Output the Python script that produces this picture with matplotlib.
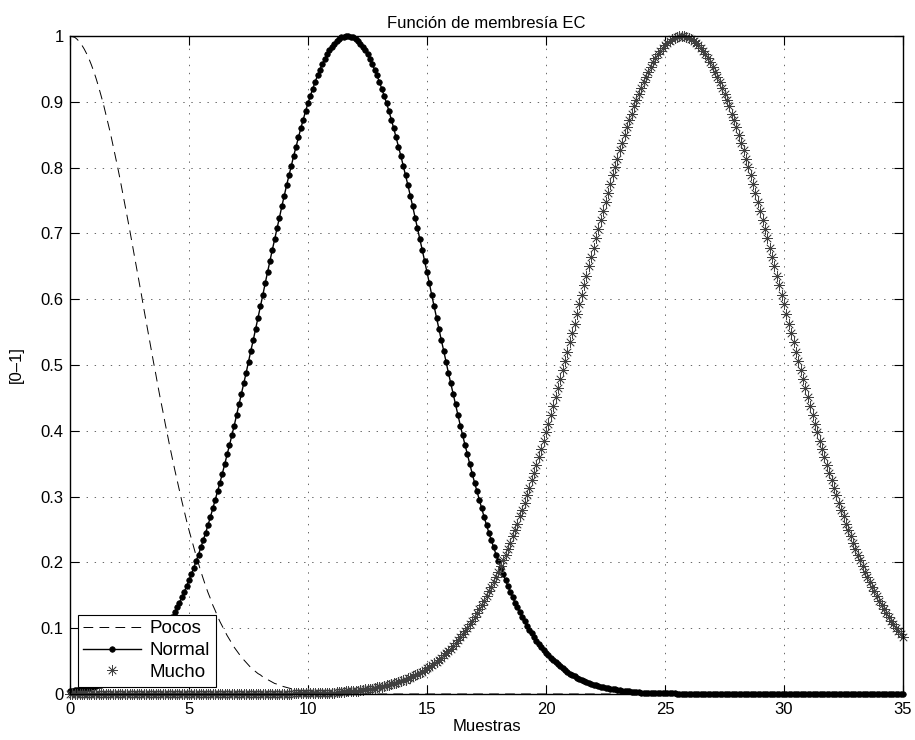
import numpy as np
import matplotlib.pyplot as plt
from matplotlib.ticker import FormatStrFormatter

plt.rcParams['font.family'] = ['Liberation Sans', 'DejaVu Sans']
plt.rcParams['font.size'] = 12
plt.rcParams['lines.scale_dashes'] = False

# one sample every 0.1 on the "Muestras" axis, from 0 to 35
x_step = 0.1

pocos = [
    1.000, 0.999, 0.998, 0.995, 0.991, 0.986, 0.980, 0.973, 0.965, 0.956,
    0.946, 0.935, 0.923, 0.910, 0.897, 0.882, 0.867, 0.852, 0.835, 0.818,
    0.801, 0.783, 0.764, 0.745, 0.726, 0.707, 0.687, 0.667, 0.647, 0.627,
    0.607, 0.586, 0.566, 0.546, 0.526, 0.506, 0.487, 0.467, 0.448, 0.430,
    0.411, 0.393, 0.375, 0.358, 0.341, 0.325, 0.309, 0.293, 0.278, 0.263,
    0.249, 0.236, 0.223, 0.210, 0.198, 0.186, 0.175, 0.164, 0.154, 0.145,
    0.135, 0.127, 0.118, 0.110, 0.103, 0.096, 0.089, 0.083, 0.077, 0.071,
    0.066, 0.061, 0.056, 0.052, 0.048, 0.044, 0.040, 0.037, 0.034, 0.031,
    0.029, 0.026, 0.024, 0.022, 0.020, 0.018, 0.016, 0.015, 0.014, 0.012,
    0.011, 0.010, 0.009, 0.008, 0.007, 0.007, 0.006, 0.005, 0.005, 0.004,
    0.004, 0.003, 0.003, 0.003, 0.002, 0.002, 0.002, 0.002, 0.002, 0.001,
    0.001, 0.001, 0.001, 0.001, 0.001, 0.001, 0.001, 0, 0, 0,
    0, 0, 0, 0, 0, 0, 0, 0, 0, 0,  # 12
    0, 0, 0, 0, 0, 0, 0, 0, 0, 0,
    0, 0, 0, 0, 0, 0, 0, 0, 0, 0,
    0, 0, 0, 0, 0, 0, 0, 0, 0, 0,
    0, 0, 0, 0, 0, 0, 0, 0, 0, 0,
    0, 0, 0, 0, 0, 0, 0, 0, 0, 0,
    0, 0, 0, 0, 0, 0, 0, 0, 0, 0,
    0, 0, 0, 0, 0, 0, 0, 0, 0, 0,
    0, 0, 0, 0, 0, 0, 0, 0, 0, 0,
    0, 0, 0, 0, 0, 0, 0, 0, 0, 0,
    0, 0, 0, 0, 0, 0, 0, 0, 0, 0,  # 22
    0, 0, 0, 0, 0, 0, 0, 0, 0, 0,
    0, 0, 0, 0, 0, 0, 0, 0, 0, 0,
    0, 0, 0, 0, 0, 0, 0, 0, 0, 0,
    0, 0, 0, 0, 0, 0, 0, 0, 0, 0,
    0, 0, 0, 0, 0, 0, 0, 0, 0, 0,
    0, 0, 0, 0, 0, 0, 0, 0, 0, 0,
    0, 0, 0, 0, 0, 0, 0, 0, 0, 0,
    0, 0, 0, 0, 0, 0, 0, 0, 0, 0,
    0, 0, 0, 0, 0, 0, 0, 0, 0, 0,
    0, 0, 0, 0, 0, 0, 0, 0, 0, 0,  # 32
    0, 0, 0, 0, 0, 0, 0, 0, 0, 0,
    0, 0, 0, 0, 0, 0, 0, 0, 0, 0,  # 34
    0,
]

normal = [
    0.005, 0.005, 0.006, 0.006, 0.007, 0.007, 0.008, 0.009, 0.009, 0.010,
    0.011, 0.012, 0.013, 0.014, 0.015, 0.017, 0.018, 0.020, 0.021, 0.023,
    0.025, 0.027, 0.029, 0.031, 0.034, 0.036, 0.039, 0.042, 0.045, 0.048,
    0.051, 0.055, 0.059, 0.063, 0.067, 0.072, 0.076, 0.081, 0.087, 0.092,
    0.098, 0.104, 0.111, 0.117, 0.124, 0.132, 0.139, 0.147, 0.155, 0.164,
    0.173, 0.182, 0.192, 0.202, 0.212, 0.223, 0.234, 0.245, 0.257, 0.269,
    0.282, 0.295, 0.308, 0.321, 0.335, 0.349, 0.364, 0.378, 0.393, 0.408,
    0.424, 0.440, 0.456, 0.472, 0.488, 0.505, 0.522, 0.538, 0.555, 0.572,
    0.589, 0.606, 0.624, 0.641, 0.658, 0.675, 0.691, 0.708, 0.724, 0.741,
    0.757, 0.773, 0.788, 0.803, 0.818, 0.832, 0.846, 0.860, 0.873, 0.886,
    0.898, 0.909, 0.920, 0.930, 0.940, 0.949, 0.957, 0.965, 0.972, 0.978,
    0.983, 0.988, 0.992, 0.995, 0.998, 0.999, 1.000, 1.000, 0.999, 0.998,
    0.995, 0.992, 0.988, 0.983, 0.978, 0.972, 0.965, 0.957, 0.949, 0.940,
    0.930, 0.920, 0.909, 0.898, 0.886, 0.873, 0.860, 0.846, 0.832, 0.818,
    0.803, 0.788, 0.773, 0.757, 0.741, 0.724, 0.708, 0.691, 0.675, 0.658,
    0.641, 0.624, 0.606, 0.589, 0.572, 0.555, 0.538, 0.522, 0.505, 0.488,
    0.472, 0.456, 0.440, 0.424, 0.408, 0.393, 0.378, 0.364, 0.349, 0.335,
    0.321, 0.308, 0.295, 0.282, 0.269, 0.257, 0.245, 0.234, 0.223, 0.212,
    0.202, 0.192, 0.182, 0.173, 0.164, 0.155, 0.147, 0.139, 0.132, 0.124,
    0.117, 0.111, 0.104, 0.098, 0.092, 0.087, 0.081, 0.076, 0.072, 0.067,
    0.063, 0.059, 0.055, 0.051, 0.048, 0.045, 0.042, 0.039, 0.036, 0.034,
    0.031, 0.029, 0.027, 0.025, 0.023, 0.021, 0.020, 0.018, 0.017, 0.015,
    0.014, 0.013, 0.012, 0.011, 0.010, 0.009, 0.009, 0.008, 0.007, 0.007,
    0.006, 0.006, 0.005, 0.005, 0.004, 0.004, 0.003, 0.003, 0.003, 0.003,
    0.002, 0.002, 0.002, 0.002, 0.002, 0.001, 0.001, 0.001, 0.001, 0.001,
    0.001, 0.001, 0.001, 0.001, 0.001, 0, 0, 0, 0, 0,
    0, 0, 0, 0, 0, 0, 0, 0, 0, 0,
    0, 0, 0, 0, 0, 0, 0, 0, 0, 0,
    0, 0, 0, 0, 0, 0, 0, 0, 0, 0,
    0, 0, 0, 0, 0, 0, 0, 0, 0, 0,
    0, 0, 0, 0, 0, 0, 0, 0, 0, 0,
    0, 0, 0, 0, 0, 0, 0, 0, 0, 0,
    0, 0, 0, 0, 0, 0, 0, 0, 0, 0,
    0, 0, 0, 0, 0, 0, 0, 0, 0, 0,
    0, 0, 0, 0, 0, 0, 0, 0, 0, 0,
    0,
]

mucho = [
    0, 0, 0, 0, 0, 0, 0, 0, 0, 0,
    0, 0, 0, 0, 0, 0, 0, 0, 0, 0,
    0, 0, 0, 0, 0, 0, 0, 0, 0, 0,
    0, 0, 0, 0, 0, 0, 0, 0, 0, 0,
    0, 0, 0, 0, 0, 0, 0, 0, 0, 0,
    0, 0, 0, 0, 0, 0, 0, 0, 0, 0,
    0, 0, 0, 0, 0, 0, 0, 0, 0, 0,
    0, 0, 0, 0, 0, 0, 0, 0, 0, 0,
    0, 0, 0, 0, 0, 0, 0, 0, 0, 0,
    0, 0, 0, 0, 0.001, 0.001, 0.001, 0.001, 0.001, 0.001,
    0.001, 0.001, 0.001, 0.001, 0.001, 0.001, 0.002, 0.002, 0.002, 0.002,
    0.002, 0.002, 0.003, 0.003, 0.003, 0.003, 0.004, 0.004, 0.004, 0.005,
    0.005, 0.005, 0.006, 0.006, 0.007, 0.007, 0.008, 0.008, 0.009, 0.010,
    0.010, 0.011, 0.012, 0.013, 0.014, 0.015, 0.016, 0.017, 0.018, 0.019,
    0.021, 0.022, 0.024, 0.025, 0.027, 0.029, 0.030, 0.032, 0.034, 0.037,
    0.039, 0.041, 0.044, 0.047, 0.049, 0.052, 0.055, 0.059, 0.062, 0.066,
    0.069, 0.073, 0.077, 0.082, 0.086, 0.091, 0.096, 0.101, 0.106, 0.111,
    0.117, 0.123, 0.129, 0.135, 0.142, 0.149, 0.156, 0.163, 0.170, 0.178,
    0.186, 0.195, 0.203, 0.212, 0.221, 0.230, 0.240, 0.249, 0.259, 0.270,
    0.280, 0.291, 0.302, 0.313, 0.325, 0.336, 0.348, 0.360, 0.373, 0.385,
    0.398, 0.411, 0.424, 0.438, 0.451, 0.465, 0.478, 0.492, 0.506, 0.520,
    0.535, 0.549, 0.563, 0.578, 0.592, 0.607, 0.621, 0.635, 0.650, 0.664,
    0.678, 0.693, 0.707, 0.721, 0.734, 0.748, 0.762, 0.775, 0.788, 0.801,
    0.813, 0.826, 0.838, 0.849, 0.861, 0.872, 0.882, 0.893, 0.903, 0.912,
    0.921, 0.930, 0.938, 0.946, 0.953, 0.960, 0.966, 0.972, 0.977, 0.982,
    0.986, 0.990, 0.993, 0.995, 0.997, 0.999, 1.000, 1.000, 1.000, 0.999,
    0.997, 0.995, 0.993, 0.990, 0.986, 0.982, 0.977, 0.972, 0.966, 0.960,
    0.953, 0.946, 0.938, 0.930, 0.921, 0.912, 0.903, 0.893, 0.882, 0.872,
    0.861, 0.849, 0.838, 0.826, 0.813, 0.801, 0.788, 0.775, 0.762, 0.748,
    0.734, 0.721, 0.707, 0.693, 0.678, 0.664, 0.650, 0.635, 0.621, 0.607,
    0.592, 0.578, 0.563, 0.549, 0.535, 0.520, 0.506, 0.492, 0.478, 0.465,
    0.451, 0.438, 0.424, 0.411, 0.398, 0.385, 0.373, 0.360, 0.348, 0.336,
    0.325, 0.313, 0.302, 0.291, 0.280, 0.270, 0.259, 0.249, 0.240, 0.230,
    0.221, 0.212, 0.203, 0.195, 0.186, 0.178, 0.170, 0.163, 0.156, 0.149,
    0.142, 0.135, 0.129, 0.123, 0.117, 0.111, 0.106, 0.101, 0.096, 0.091,
    0.086,
]

x = np.arange(len(normal)) * x_step

fig = plt.figure(figsize=(9.15, 7.4), dpi=100)
ax = fig.add_axes([70 / 915, 46 / 740, 833 / 915, 658 / 740])

ax.plot(x, pocos, color='k', lw=0.7, dashes=(7, 4.5), label='Pocos')
ax.plot(x, normal, color='k', lw=1.0, marker='o', ms=4, mew=0.5,
        label='Normal', clip_on=False)
ax.plot(x, mucho, ls='none', color='0.25', marker=(8, 2, 0), ms=7.5, mew=0.5,
        label='Mucho', clip_on=False)

ax.set_xlim(0, 35)
ax.set_ylim(0, 1)
ax.set_xticks(np.arange(0, 36, 5))
ax.set_yticks(np.linspace(0, 1, 11))
ax.yaxis.set_major_formatter(FormatStrFormatter('%g'))
ax.tick_params(direction='in', top=True, right=True, length=6.5, width=0.8)
ax.tick_params(axis='x', pad=6)
ax.tick_params(axis='y', pad=4.5)
for s in ax.spines.values():
    s.set_linewidth(1.0)
ax.grid(True, color='0.3', lw=0.6, linestyle=(0, (1, 4.8)))

ax.set_title('Función de membresía EC', fontsize=12, pad=6)
ax.set_xlabel('Muestras', labelpad=1)
ax.set_ylabel('[0–1]', labelpad=12)

leg = ax.legend(loc='lower left', fancybox=False, edgecolor='k', framealpha=1,
                fontsize=13.5, handlelength=3.1, numpoints=1,
                borderaxespad=0.4, labelspacing=0.25, handletextpad=0.45,
                borderpad=0.3)
leg.get_frame().set_linewidth(0.8)
leg.set_zorder(5)

fig.savefig('out.png', dpi=100)
